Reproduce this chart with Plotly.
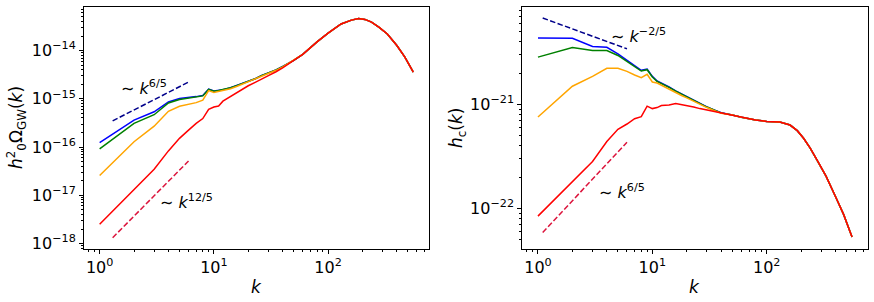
import plotly.graph_objects as go

# wavenumbers
k = [1, 2, 3, 4, 5, 6, 7, 8, 9, 10, 11, 12, 14, 16, 18, 20, 23, 26, 30, 35, 40,
     50, 60, 80, 100, 130, 160, 185, 210, 240, 280, 330, 400, 470, 557]

# left panel: log10(h0^2 Omega_GW)
omega_tail = [-14.206, -14.08, -13.82, -13.64, -13.45, -13.37, -13.334, -13.355,
              -13.41, -13.52, -13.656, -13.897, -14.138, -14.447]
omega_blue = [-15.91, -15.443, -15.27, -15.066, -14.996, -14.98, -14.955, -14.93, -14.80, -14.84,
              -14.825, -14.81, -14.77, -14.72, -14.674, -14.64, -14.584, -14.52, -14.468, -14.40,
              -14.33] + omega_tail
omega_green = [-16.04, -15.51, -15.33, -15.086, -15.017, -14.99, -14.965, -14.94, -14.805, -14.845,
               -14.828, -14.812, -14.772, -14.722, -14.676, -14.642, -14.586, -14.522, -14.47,
               -14.402, -14.332] + omega_tail
omega_orange = [-16.59, -15.89, -15.567, -15.26, -15.155, -15.12, -15.08, -15.03, -14.83, -14.87,
                -14.85, -14.835, -14.79, -14.74, -14.69, -14.655, -14.60, -14.535, -14.48,
                -14.41, -14.34] + omega_tail
omega_red = [-17.60, -16.88, -16.46, -16.08, -15.82, -15.65, -15.51, -15.41, -15.22, -15.17,
             -15.15, -15.05, -14.95, -14.86, -14.79, -14.73, -14.66, -14.59, -14.52, -14.44,
             -14.36] + omega_tail

# right panel: log10(h_c)
hc_tail = [-21.102, -21.124, -21.15, -21.163, -21.169, -21.198, -21.252, -21.325,
           -21.42, -21.548, -21.69, -21.888, -22.057, -22.274]
hc_blue = [-20.36, -20.364, -20.443, -20.45, -20.513, -20.577, -20.625, -20.672, -20.66, -20.73,
           -20.775, -20.794, -20.832, -20.87, -20.90, -20.927, -20.959, -20.99, -21.023, -21.054,
           -21.08] + hc_tail
hc_green = [-20.545, -20.453, -20.481, -20.481, -20.529, -20.586, -20.631, -20.679, -20.666, -20.736,
            -20.778, -20.797, -20.835, -20.872, -20.902, -20.929, -20.961, -20.992, -21.025,
            -21.056, -21.081] + hc_tail
hc_orange = [-21.121, -20.825, -20.73, -20.653, -20.653, -20.682, -20.717, -20.742, -20.71, -20.784,
             -20.794, -20.816, -20.85, -20.885, -20.914, -20.937, -20.97, -21.0, -21.03, -21.06,
             -21.085] + hc_tail
hc_red = [-22.074, -21.744, -21.548, -21.357, -21.239, -21.188, -21.137, -21.118, -21.016, -21.04,
          -21.03, -21.01, -21.005, -20.99, -21.0, -21.01, -21.025, -21.04, -21.054, -21.068,
          -21.08] + hc_tail

# power-law guide lines (endpoints, log10 values)
guide_omega_k = [1.3, 6.0]
guide_omega_65 = [-15.458, -14.654]
guide_omega_125 = [-17.88, -16.289]
guide_hc_k = [1.1, 6.0]
guide_hc_m25 = [-20.169, -20.465]
guide_hc_65 = [-22.232, -21.363]

x_ticks = [0, 1, 2]
y_ticks_left = [-18, -17, -16, -15, -14]
y_ticks_right = [-22, -21]

FONT = "DejaVu Sans"
fig = go.Figure()

def p10(a):
    return [10 ** v for v in a]

series = [("blue", omega_blue, hc_blue), ("green", omega_green, hc_green),
          ("orange", omega_orange, hc_orange), ("red", omega_red, hc_red)]
for col, om, hc in series:
    fig.add_trace(go.Scatter(x=k, y=p10(om), mode="lines", line=dict(color=col, width=1.5),
                             xaxis="x", yaxis="y", showlegend=False))
    fig.add_trace(go.Scatter(x=k, y=p10(hc), mode="lines", line=dict(color=col, width=1.5),
                             xaxis="x2", yaxis="y2", showlegend=False))

dash = "5.5px,2.4px"
fig.add_trace(go.Scatter(x=guide_omega_k, y=p10(guide_omega_65), mode="lines",
                         line=dict(color="#00008B", width=1.5, dash=dash), xaxis="x", yaxis="y", showlegend=False))
fig.add_trace(go.Scatter(x=guide_omega_k, y=p10(guide_omega_125), mode="lines",
                         line=dict(color="#DC143C", width=1.5, dash=dash), xaxis="x", yaxis="y", showlegend=False))
fig.add_trace(go.Scatter(x=guide_hc_k, y=p10(guide_hc_m25), mode="lines",
                         line=dict(color="#00008B", width=1.5, dash=dash), xaxis="x2", yaxis="y2", showlegend=False))
fig.add_trace(go.Scatter(x=guide_hc_k, y=p10(guide_hc_65), mode="lines",
                         line=dict(color="#DC143C", width=1.5, dash=dash), xaxis="x2", yaxis="y2", showlegend=False))

def sup(n):
    return "10<sup>" + (str(n) if n >= 0 else "\u2212" + str(-n)) + "</sup>"

def minors(lo, hi):
    out = []
    for d in range(lo, hi + 1):
        for m in range(2, 10):
            out.append(m * 10.0 ** d)
    return out

common_axis = dict(type="log", showline=True, linecolor="black", linewidth=1, mirror=True,
                   ticks="outside", ticklen=4, tickwidth=1, tickcolor="black", showgrid=False,
                   zeroline=False, automargin=False,
                   tickfont=dict(family=FONT, size=16, color="black"))

def minor_cfg(lo, hi):
    return dict(tickmode="array", tickvals=minors(lo, hi), ticks="outside", ticklen=2,
                tickwidth=0.8, tickcolor="black")

xr = [-0.137, 2.883]
fig.update_layout(
    width=874, height=302, margin=dict(l=0, r=0, t=0, b=0),
    paper_bgcolor="white", plot_bgcolor="white",
    font=dict(family=FONT, size=15, color="black"),
    xaxis=dict(domain=[0.0961, 0.4908], anchor="y", range=xr, tickmode="array",
               tickvals=p10(x_ticks), ticktext=[sup(v) for v in x_ticks],
               minor=minor_cfg(-1, 2), **common_axis),
    yaxis=dict(domain=[0.1755, 0.9768], anchor="x", range=[-18.113, -13.098], tickmode="array",
               tickvals=p10(y_ticks_left), ticktext=[sup(v) for v in y_ticks_left],
               minor=minor_cfg(-19, -14), **common_axis),
    xaxis2=dict(domain=[0.5976, 0.9928], anchor="y2", range=xr, tickmode="array",
                tickvals=p10(x_ticks), ticktext=[sup(v) for v in x_ticks],
                minor=minor_cfg(-1, 2), **common_axis),
    yaxis2=dict(domain=[0.1755, 0.9768], anchor="x2", range=[-22.39, -20.063], tickmode="array",
                tickvals=p10(y_ticks_right), ticktext=[sup(v) for v in y_ticks_right],
                minor=minor_cfg(-23, -20), **common_axis),
)

title_font = dict(family=FONT, size=17, color="black")
# axis titles
fig.add_annotation(x=256 / 874, y=1 - 287 / 302, xref="paper", yref="paper", text="<i>k</i>",
                   showarrow=False, xanchor="center", yanchor="middle", font=title_font)
fig.add_annotation(x=694 / 874, y=1 - 287 / 302, xref="paper", yref="paper", text="<i>k</i>",
                   showarrow=False, xanchor="center", yanchor="middle", font=title_font)
fig.add_annotation(x=17 / 874, y=1 - 128 / 302, xref="paper", yref="paper",
                   text="<i>h</i><sup>2</sup><sub>0</sub>\u03a9<sub>GW</sub>(<i>k</i>)", textangle=-90,
                   showarrow=False, xanchor="center", yanchor="middle", font=title_font)
fig.add_annotation(x=458 / 874, y=1 - 128 / 302, xref="paper", yref="paper",
                   text="<i>h</i><sub>c</sub>(<i>k</i>)", textangle=-90,
                   showarrow=False, xanchor="center", yanchor="middle", font=title_font)

ann_font = dict(family=FONT, size=16, color="black")
fig.add_annotation(x=0.17, y=-14.77, xref="x", yref="y", text="\u223c <i>k</i><sup>6/5</sup>",
                   showarrow=False, xanchor="left", yanchor="middle", font=ann_font)
fig.add_annotation(x=0.51, y=-17.13, xref="x", yref="y", text="\u223c <i>k</i><sup>12/5</sup>",
                   showarrow=False, xanchor="left", yanchor="middle", font=ann_font)
fig.add_annotation(x=0.625, y=-20.34, xref="x2", yref="y2", text="\u223c <i>k</i><sup>\u22122/5</sup>",
                   showarrow=False, xanchor="left", yanchor="middle", font=ann_font)
fig.add_annotation(x=0.52, y=-21.835, xref="x2", yref="y2", text="\u223c <i>k</i><sup>6/5</sup>",
                   showarrow=False, xanchor="left", yanchor="middle", font=ann_font)

fig.write_html("out.html", config={"displayModeBar": False},
               post_script="document.body.style.margin='0px';")
